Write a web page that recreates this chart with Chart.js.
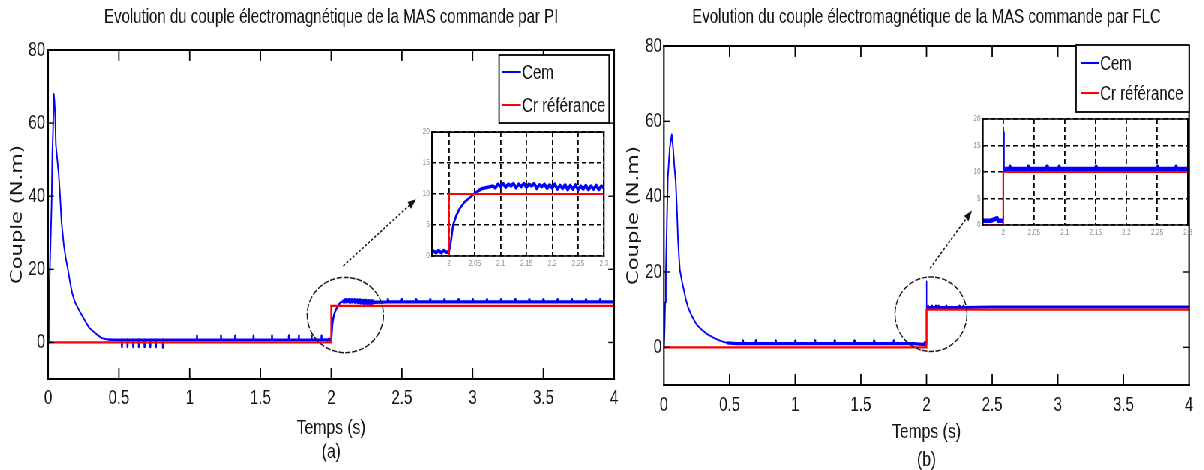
<!DOCTYPE html>
<html>
<head>
<meta charset="utf-8">
<title>Couple électromagnétique de la MAS : PI et FLC</title>
<script src="https://cdn.jsdelivr.net/npm/chart.js@4.4.0/dist/chart.umd.min.js"></script>
<style>
  html, body { margin: 0; padding: 0; background: #fff; }
  body { position: relative; width: 1204px; height: 470px; overflow: hidden; }
  /* the figure is laid out wide and condensed horizontally, like the narrow MATLAB export */
  #figure { position: absolute; left: 0; top: 0; width: 1605px; height: 480px;
            transform: scaleX(0.75); transform-origin: 0 0; }
  canvas { position: absolute; }
</style>
</head>
<body>
<div id="figure">
  <canvas id="mainPI" width="883" height="480" style="left:0px;top:0px"></canvas>
  <canvas id="mainFLC" width="871" height="480" style="left:800px;top:0px"></canvas>
  <canvas id="zoomPI" width="277" height="150" style="left:540px;top:124px"></canvas>
  <canvas id="zoomFLC" width="316" height="135" style="left:1280px;top:110px"></canvas>
</div>
<script>
// ---- axis ticks ----
const timeTicks = [0, 0.5, 1, 1.5, 2, 2.5, 3, 3.5, 4];
const timeTickLabels = ['0', '0.5', '1', '1.5', '2', '2.5', '3', '3.5', '4'];
const coupleTicks = [0, 20, 40, 60, 80];
const coupleTickLabels = ['0', '20', '40', '60', '80'];
const zoomTimeTicks = [2, 2.05, 2.1, 2.15, 2.2, 2.25, 2.3];
const zoomTimeTickLabels = ['2', '2.05', '2.1', '2.15', '2.2', '2.25', '2.3'];
const zoomCoupleTicks = [0, 5, 10, 15, 20];
const zoomCoupleTickLabels = ['0', '5', '10', '15', '20'];

// ---- load torque reference Cr (N.m) ----
const refTime = [0, 2, 2, 4];
const refTorque = [0, 0, 10, 10];

// ---- electromagnetic torque Cem, PI control: [t (s), Cem (N.m)] ----
const cemPI = [
  [0, 0], [0.005, 5], [0.01, 16], [0.015, 24], [0.02, 31], [0.025, 38], [0.03, 52], [0.035, 58],
  [0.04, 68], [0.045, 66], [0.05, 62], [0.055, 54], [0.065, 50], [0.075, 46], [0.085, 40], [0.095, 33],
  [0.11, 27], [0.125, 23], [0.14, 20], [0.155, 16.5], [0.17, 13.5], [0.19, 11], [0.21, 9.5], [0.23, 8],
  [0.26, 6], [0.29, 4], [0.32, 3], [0.35, 2], [0.38, 1.2], [0.42, 0.8], [0.47, 0.7],
  [0.52, 0.7], [0.521, -1.2], [0.522, 0.7], [0.56, 0.7], [0.561, -1.2], [0.562, 0.7],
  [0.6, 0.7], [0.601, -1.2], [0.602, 0.7], [0.64, 0.7], [0.641, -1.2], [0.642, 0.7],
  [0.68, 0.7], [0.681, -1.2], [0.682, 0.7], [0.72, 0.7], [0.721, -1.2], [0.722, 0.7],
  [0.76, 0.7], [0.761, -1.2], [0.762, 0.7], [0.81, 0.7], [0.811, -1.4], [0.812, 0.7],
  [1.05, 0.7], [1.051, 1.8], [1.052, 0.7], [1.22, 0.7], [1.221, 1.8], [1.222, 0.7],
  [1.32, 0.7], [1.321, 1.8], [1.322, 0.7], [1.45, 0.7], [1.451, 1.8], [1.452, 0.7],
  [1.58, 0.7], [1.581, 1.8], [1.582, 0.7], [1.7, 0.7], [1.701, 1.8], [1.702, 0.7],
  [1.77, 0.7], [1.771, 1.8], [1.772, 0.7], [1.86, 0.7], [1.861, 1.8], [1.862, 0.7],
  [1.93, 0.7], [1.931, 1.8], [1.932, 0.7],
  [1.97, 0.8], [1.975, 0.5], [1.98, 0.9], [1.985, 0.5], [1.99, 0.9], [1.995, 0.6], [2.0, 0.7],
  [2.004, 2.5], [2.008, 5], [2.014, 6.5], [2.021, 7.7], [2.03, 8.7], [2.04, 9.4], [2.048, 10],
  [2.056, 10.5], [2.065, 10.9], [2.075, 11.1], [2.08, 11.2],
  [2.085, 11.3], [2.09, 11.0], [2.095, 11.6], [2.1, 11.2], [2.105, 11.7], [2.11, 11.1], [2.115, 11.6],
  [2.12, 11.3], [2.125, 11.7], [2.13, 11.0], [2.135, 11.6], [2.14, 11.2], [2.145, 11.7], [2.15, 11.1],
  [2.155, 11.6], [2.16, 11.3], [2.165, 11.7], [2.17, 10.9], [2.175, 11.5], [2.18, 11.2], [2.185, 11.6],
  [2.19, 10.9], [2.195, 11.5], [2.2, 11.0], [2.205, 11.6], [2.21, 10.8], [2.215, 11.4], [2.22, 10.9],
  [2.225, 11.5], [2.23, 10.7], [2.235, 11.4], [2.24, 10.8], [2.245, 11.5], [2.25, 10.7], [2.255, 11.3],
  [2.26, 10.8], [2.265, 11.4], [2.27, 10.7], [2.275, 11.3], [2.28, 10.8], [2.285, 11.4], [2.29, 10.7],
  [2.295, 11.3], [2.3, 11.0],
  [2.4, 11.1], [2.401, 11.7], [2.402, 11.1], [2.5, 11.1], [2.501, 11.7], [2.502, 11.1],
  [2.6, 11.1], [2.601, 11.7], [2.602, 11.1], [2.7, 11.1], [2.701, 11.7], [2.702, 11.1],
  [2.8, 11.1], [2.801, 11.7], [2.802, 11.1], [2.9, 11.1], [2.901, 11.7], [2.902, 11.1],
  [3.0, 11.1], [3.001, 11.7], [3.002, 11.1], [3.1, 11.1], [3.101, 11.7], [3.102, 11.1],
  [3.2, 11.1], [3.201, 11.7], [3.202, 11.1], [3.3, 11.1], [3.301, 11.7], [3.302, 11.1],
  [3.4, 11.1], [3.401, 11.7], [3.402, 11.1], [3.5, 11.1], [3.501, 11.7], [3.502, 11.1],
  [3.6, 11.1], [3.601, 11.7], [3.602, 11.1], [3.7, 11.1], [3.701, 11.7], [3.702, 11.1],
  [3.8, 11.1], [3.801, 11.7], [3.802, 11.1], [3.9, 11.1], [3.901, 11.7], [3.902, 11.1],
  [4.0, 11.1]
];

// ---- electromagnetic torque Cem, fuzzy (FLC) control: [t (s), Cem (N.m)] ----
const cemFLC = [
  [0, 0], [0.005, 4], [0.01, 12], [0.015, 20], [0.02, 28], [0.03, 45], [0.045, 53], [0.06, 56.5],
  [0.07, 53], [0.08, 48], [0.09, 44], [0.1, 36], [0.107, 29], [0.115, 24], [0.122, 20.5], [0.135, 18],
  [0.147, 16], [0.165, 13], [0.185, 10.5], [0.21, 8.5], [0.25, 6], [0.29, 4.6], [0.33, 3.5], [0.38, 2.5],
  [0.43, 1.7], [0.48, 1.2],
  [0.55, 1.0], [0.6, 1.0], [0.601, 1.7], [0.602, 1.0], [0.7, 1.0], [0.701, 1.7], [0.702, 1.0],
  [0.85, 1.0], [0.851, 1.7], [0.852, 1.0], [1.0, 1.0], [1.001, 1.7], [1.002, 1.0],
  [1.15, 1.0], [1.151, 1.7], [1.152, 1.0], [1.3, 1.0], [1.301, 1.7], [1.302, 1.0],
  [1.45, 1.0], [1.451, 1.7], [1.452, 1.0], [1.6, 1.0], [1.601, 1.7], [1.602, 1.0],
  [1.75, 1.0], [1.751, 1.7], [1.752, 1.0], [1.9, 1.0],
  [1.97, 0.8], [1.98, 0.8], [1.99, 1.3], [1.992, 0.8], [2.0, 0.8],
  [2.0005, 17.5], [2.0015, 10.6],
  [2.01, 10.6], [2.011, 11.0], [2.012, 10.6], [2.04, 10.6], [2.041, 11.0], [2.042, 10.6],
  [2.07, 10.6], [2.071, 11.0], [2.072, 10.6], [2.09, 10.6], [2.091, 11.0], [2.092, 10.6],
  [2.15, 10.6], [2.151, 11.0], [2.152, 10.6], [2.25, 10.6], [2.251, 11.0], [2.252, 10.6],
  [2.28, 10.6], [2.281, 11.0], [2.282, 10.6], [2.5, 10.7], [3.0, 10.7], [3.5, 10.7], [4.0, 10.7]
];

const SANS = "'Liberation Sans', Arial, Helvetica, sans-serif";
const WIDE = "'DejaVu Sans', 'Liberation Sans', Arial, sans-serif";
const BLUE = '#0000ff';
const RED = '#ff0000';
const INK = '#151515';

const toXY = pairs => pairs.map(p => ({ x: p[0], y: p[1] }));
const refXY = refTime.map((t, i) => ({ x: t, y: refTorque[i] }));
const fixedTicks = values => scale => { scale.ticks = values.map(v => ({ value: v })); };

// line width of the Cem trace depends on where the segment starts (noise band vs transient)
function widthBy(steps) {
  return ctx => {
    const x = ctx.p0.parsed.x;
    let w = steps[0][1];
    for (const s of steps) if (x >= s[0]) w = s[1];
    return w;
  };
}

// white plotting surface (used by the zoom axes)
const paperBg = {
  id: 'paperBg',
  beforeDraw(chart, args, o) {
    if (!o.fill) return;
    const a = chart.chartArea;
    chart.ctx.save();
    chart.ctx.fillStyle = o.fill;
    chart.ctx.fillRect(a.left, a.top, a.right - a.left, a.bottom - a.top);
    chart.ctx.restore();
  }
};

// boxed axes with inward tick marks on all four sides
const boxFrame = {
  id: 'boxFrame',
  afterDatasetsDraw(chart, args, o) {
    const { ctx, chartArea: a, scales } = chart;
    const seg = (x1, y1, x2, y2) => { ctx.beginPath(); ctx.moveTo(x1, y1); ctx.lineTo(x2, y2); ctx.stroke(); };
    ctx.save();
    ctx.strokeStyle = o.color || '#000';
    ctx.lineCap = 'square';
    if (o.tickX) {
      ctx.lineWidth = o.tickWidthX;
      scales.x.ticks.forEach(t => {
        const px = scales.x.getPixelForValue(t.value);
        if (px <= a.left + 1 || px >= a.right - 1) return;
        seg(px, a.bottom, px, a.bottom - o.tickX);
        seg(px, a.top, px, a.top + o.tickX);
      });
    }
    if (o.tickY) {
      ctx.lineWidth = o.tickWidthY;
      scales.y.ticks.forEach(t => {
        const py = scales.y.getPixelForValue(t.value);
        if (py <= a.top + 1 || py >= a.bottom - 1) return;
        seg(a.left, py, a.left + o.tickY, py);
        seg(a.right, py, a.right - o.tickY, py);
      });
    }
    ctx.lineWidth = o.hWidth;
    seg(a.left, a.top, a.right, a.top);
    seg(a.left, a.bottom, a.right, a.bottom);
    ctx.lineWidth = o.vWidth;
    seg(a.left, a.top, a.left, a.bottom);
    seg(a.right, a.top, a.right, a.bottom);
    ctx.restore();
  }
};

// dashed ellipse round the load step and an arrow pointing to the zoom axes
const callout = {
  id: 'callout',
  afterDatasetsDraw(chart, args, o) {
    if (!o.ellipse) return;
    const { ctx } = chart;
    const xs = chart.scales.x, ys = chart.scales.y;
    const e = o.ellipse;
    const cx = xs.getPixelForValue(e.x), cy = ys.getPixelForValue(e.y);
    const rx = Math.abs(xs.getPixelForValue(e.x + e.rx) - cx);
    const ry = Math.abs(ys.getPixelForValue(e.y + e.ry) - cy);
    ctx.save();
    ctx.strokeStyle = '#1a1a1a';
    ctx.lineWidth = 1.5;
    ctx.setLineDash([7, 2]);
    ctx.beginPath();
    ctx.ellipse(cx, cy, rx, ry, 0, 0, Math.PI * 2);
    ctx.stroke();
    const x1 = xs.getPixelForValue(o.from[0]), y1 = ys.getPixelForValue(o.from[1]);
    const x2 = xs.getPixelForValue(o.to[0]), y2 = ys.getPixelForValue(o.to[1]);
    const ang = Math.atan2(y2 - y1, x2 - x1);
    const head = 11;
    ctx.setLineDash([3, 2]);
    ctx.lineWidth = 1.6;
    ctx.beginPath();
    ctx.moveTo(x1, y1);
    ctx.lineTo(x2 - head * Math.cos(ang), y2 - head * Math.sin(ang));
    ctx.stroke();
    ctx.setLineDash([]);
    ctx.fillStyle = '#111';
    ctx.beginPath();
    ctx.moveTo(x2, y2);
    ctx.lineTo(x2 - head * Math.cos(ang) + 4 * Math.sin(ang), y2 - head * Math.sin(ang) - 4 * Math.cos(ang));
    ctx.lineTo(x2 - head * Math.cos(ang) - 4 * Math.sin(ang), y2 - head * Math.sin(ang) + 4 * Math.cos(ang));
    ctx.closePath();
    ctx.fill();
    ctx.restore();
  }
};

// boxed legend in the upper right corner of the axes
const boxLegend = {
  id: 'boxLegend',
  afterDraw(chart, args, o) {
    if (!o.width) return;
    const { ctx, chartArea: a } = chart;
    const left = a.right - o.right - o.width;
    const top = a.top + o.top;
    ctx.save();
    ctx.fillStyle = '#fff';
    ctx.fillRect(left, top, o.width, o.height);
    ctx.strokeStyle = '#000';
    ctx.lineWidth = 1.8;
    ctx.strokeRect(left, top, o.width, o.height);
    ctx.font = o.font;
    ctx.textBaseline = 'middle';
    ctx.textAlign = 'left';
    chart.data.datasets.forEach((ds, i) => {
      const y = top + o.rows[i];
      ctx.strokeStyle = ds.borderColor;
      ctx.lineWidth = 2;
      ctx.beginPath();
      ctx.moveTo(left + o.sampleX, y);
      ctx.lineTo(left + o.sampleX + o.sampleLen, y);
      ctx.stroke();
      ctx.fillStyle = INK;
      ctx.fillText(ds.label, left + o.textX, y + 1);
    });
    ctx.restore();
  }
};

function mainChart(id, o) {
  return new Chart(document.getElementById(id), {
    type: 'line',
    data: {
      datasets: [
        { label: 'Cem', data: toXY(o.cem), borderColor: BLUE, borderWidth: 2, pointRadius: 0,
          borderJoinStyle: 'round', tension: 0, order: 1, segment: { borderWidth: widthBy(o.cemWidths) } },
        { label: 'Cr référance', data: refXY, borderColor: RED, borderWidth: 2.3, pointRadius: 0,
          tension: 0, order: 0 }
      ]
    },
    options: {
      responsive: false, animation: false, events: [],
      layout: { padding: 0, autoPadding: false },
      plugins: {
        legend: { display: false },
        tooltip: { enabled: false },
        title: {
          display: true, text: o.title, color: INK,
          font: { family: SANS, size: 20, weight: 'normal', lineHeight: 1.2 },
          padding: { top: 5, bottom: o.titleGap }
        },
        boxFrame: { hWidth: 2.2, vWidth: 2.1, tickX: 10, tickY: 7, tickWidthX: 1.8, tickWidthY: 1.4 },
        callout: o.callout,
        boxLegend: o.legend
      },
      scales: {
        x: {
          type: 'linear', min: 0, max: 4,
          afterBuildTicks: fixedTicks(timeTicks),
          afterFit: s => { s.height = o.xHeight; },
          grid: { display: false, drawTicks: false },
          border: { display: false },
          ticks: { callback: (v, i) => timeTickLabels[i], color: INK, autoSkip: false, maxRotation: 0,
                   font: { family: SANS, size: 20 }, padding: o.xTickPad },
          title: { display: true, text: ['Temps (s)', o.tag], color: INK,
                   font: { family: SANS, size: 21, lineHeight: o.xTitleLH },
                   padding: { top: 0, bottom: o.xTitleGap } }
        },
        y: {
          type: 'linear', position: 'left', min: -10, max: 80,
          afterBuildTicks: fixedTicks(coupleTicks),
          afterFit: s => { s.width = o.yWidth; },
          grid: { display: false, drawTicks: false },
          border: { display: false },
          ticks: { callback: (v, i) => coupleTickLabels[i], color: INK,
                   font: { family: SANS, size: 20 }, padding: o.yTickPad },
          title: { display: true, text: 'Couple (N.m)', color: INK,
                   font: { family: WIDE, size: 21, lineHeight: 1.2 },
                   padding: { top: o.yTitlePad, bottom: 0 } }
        },
        yMirror: {
          type: 'linear', position: 'right', display: true,
          afterFit: s => { s.width = o.yWidth; },
          grid: { display: false, drawTicks: false },
          border: { display: false },
          ticks: { display: false }
        }
      }
    },
    plugins: [boxFrame, callout, boxLegend]
  });
}

function zoomChart(id, o) {
  return new Chart(document.getElementById(id), {
    type: 'line',
    data: {
      datasets: [
        { label: 'Cem', data: toXY(o.cem), borderColor: BLUE, borderWidth: 3, pointRadius: 0,
          borderJoinStyle: 'round', tension: 0, order: 1, segment: { borderWidth: widthBy(o.cemWidths) } },
        { label: 'Cr référance', data: refXY, borderColor: RED, borderWidth: 2, pointRadius: 0,
          tension: 0, order: 0 }
      ]
    },
    options: {
      responsive: false, animation: false, events: [],
      layout: { padding: { top: o.padTop, right: o.padRight, left: 0, bottom: 0 }, autoPadding: false },
      plugins: {
        legend: { display: false },
        tooltip: { enabled: false },
        paperBg: { fill: '#fff' },
        boxFrame: { hWidth: 1.6, vWidth: 2 }
      },
      scales: {
        x: {
          type: 'linear', min: 1.967, max: 2.3,
          afterBuildTicks: fixedTicks(zoomTimeTicks),
          afterFit: s => { s.height = o.xHeight; },
          grid: { display: true, drawTicks: false, color: '#000', lineWidth: 1.8 },
          border: { display: false, dash: [5, 3] },
          ticks: { callback: (v, i) => zoomTimeTickLabels[i], color: '#8c8c8c', autoSkip: false, maxRotation: 0,
                   font: { family: SANS, size: 8.5 }, padding: 3 }
        },
        y: {
          type: 'linear', min: 0, max: 20,
          afterBuildTicks: fixedTicks(zoomCoupleTicks),
          afterFit: s => { s.width = o.yWidth; },
          grid: { display: true, drawTicks: false, color: '#000', lineWidth: 1.4 },
          border: { display: false, dash: [6, 4] },
          ticks: { callback: (v, i) => zoomCoupleTickLabels[i], color: '#8c8c8c',
                   font: { family: SANS, size: 8.5 }, padding: 3 }
        }
      }
    },
    plugins: [paperBg, boxFrame]
  });
}

// (a) PI control
mainChart('mainPI', {
  cem: cemPI,
  cemWidths: [[-1, 1.9], [0.42, 2.6], [2.0, 2.4], [2.08, 3.4]],
  title: 'Evolution du couple électromagnétique de la MAS commande par PI',
  titleGap: 21,
  tag: '(a)',
  xHeight: 101, xTickPad: 7, xTitleLH: 1.143, xTitleGap: 16,
  yWidth: 64, yTickPad: 4, yTitlePad: 11.4,
  callout: { ellipse: { x: 2.1, y: 7.5, rx: 0.27, ry: 10.3 }, from: [2.085, 20.9], to: [2.6, 39.2] },
  legend: { right: 6.7, top: 5, width: 146.7, height: 68, sampleX: 4, sampleLen: 25, textX: 30.7,
            rows: [17, 50], font: '20px ' + SANS }
});

// (b) fuzzy logic control
mainChart('mainFLC', {
  cem: cemFLC,
  cemWidths: [[-1, 1.9], [0.48, 3.2], [2.0, 1.6], [2.0015, 3.0]],
  title: 'Evolution du couple électromagnétique de la MAS commande par FLC',
  titleGap: 17,
  tag: '(b)',
  xHeight: 95, xTickPad: 8, xTitleLH: 1.333, xTitleGap: 6,
  yWidth: 85.33, yTickPad: 2.7, yTitlePad: 32.7,
  callout: { ellipse: { x: 2.034, y: 8.8, rx: 0.274, ry: 9.9 }, from: [2.027, 21], to: [2.347, 36.3] },
  legend: { right: 0, top: -1, width: 150.7, height: 67, sampleX: 6.7, sampleLen: 24, textX: 32,
            rows: [18, 48], font: '20px ' + SANS }
});

// zoom on the load step, PI
zoomChart('zoomPI', {
  cem: cemPI, cemWidths: [[-1, 3.5], [2.0, 2.6], [2.05, 3.5]],
  padTop: 8, padRight: 11.67, xHeight: 18, yWidth: 36
});

// zoom on the load step, FLC
zoomChart('zoomFLC', {
  cem: cemFLC, cemWidths: [[-1, 4.5], [2.0, 1.6], [2.0015, 4.2]],
  padTop: 9, padRight: 12, xHeight: 20, yWidth: 30.67
});
</script>
</body>
</html>
